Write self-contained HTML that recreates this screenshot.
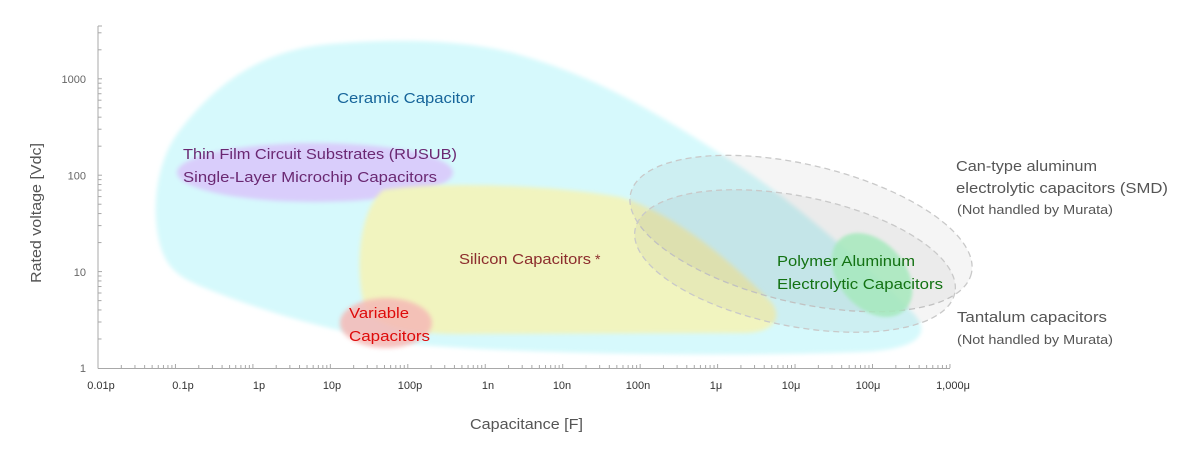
<!DOCTYPE html>
<html>
<head>
<meta charset="utf-8">
<style>
  html,body{margin:0;padding:0;background:#fff;}
  svg{display:block;}
  text{font-family:"Liberation Sans", sans-serif;}
</style>
</head>
<body>
<svg width="1200" height="450" viewBox="0 0 1200 450" xmlns="http://www.w3.org/2000/svg">
  <defs>
    <filter id="blur" x="-20%" y="-20%" width="140%" height="140%">
      <feGaussianBlur stdDeviation="2.2"/>
    </filter>
    <filter id="blur2" x="-20%" y="-20%" width="140%" height="140%">
      <feGaussianBlur stdDeviation="1.6"/>
    </filter>
    <g id="xdec" stroke="#a8a8a8" stroke-width="1">
      <line x1="23.31" y1="368" x2="23.31" y2="365"/>
      <line x1="36.95" y1="368" x2="36.95" y2="365"/>
      <line x1="46.63" y1="368" x2="46.63" y2="365"/>
      <line x1="54.13" y1="368" x2="54.13" y2="365"/>
      <line x1="60.27" y1="368" x2="60.27" y2="365"/>
      <line x1="65.45" y1="368" x2="65.45" y2="365"/>
      <line x1="69.94" y1="368" x2="69.94" y2="365"/>
      <line x1="73.91" y1="368" x2="73.91" y2="365"/>
      <line x1="77.45" y1="368" x2="77.45" y2="364"/>
    </g>
    <g id="ydec" stroke="#a8a8a8" stroke-width="1">
      <line x1="98" y1="-29.02" x2="101.5" y2="-29.02"/>
      <line x1="98" y1="-45.99" x2="101.5" y2="-45.99"/>
      <line x1="98" y1="-58.04" x2="101.5" y2="-58.04"/>
      <line x1="98" y1="-67.38" x2="101.5" y2="-67.38"/>
      <line x1="98" y1="-75.01" x2="101.5" y2="-75.01"/>
      <line x1="98" y1="-81.47" x2="101.5" y2="-81.47"/>
      <line x1="98" y1="-87.06" x2="101.5" y2="-87.06"/>
      <line x1="98" y1="-91.99" x2="101.5" y2="-91.99"/>
      <line x1="98" y1="-96.4" x2="102" y2="-96.4"/>
    </g>
  </defs>

  <!-- Ceramic (cyan) -->
  <path filter="url(#blur)" fill="#d6f9fc" d="M 172 268
    C 150 245, 148 170, 180 130
    C 215 85, 260 50, 330 44
    C 400 38, 470 40, 520 55
    C 600 78, 660 115, 730 160
    C 800 205, 870 270, 912 312
    C 935 335, 915 350, 860 352
    C 760 356, 560 356, 420 345
    C 340 335, 260 310, 210 290
    C 190 282, 180 277, 172 268 Z"/>

  <!-- Thin film (purple) -->
  <ellipse filter="url(#blur)" cx="315" cy="172.5" rx="138" ry="29.5" fill="#d9cdfb"/>

  <!-- Silicon (yellow) -->
  <path filter="url(#blur)" fill="#f1f4bf" d="M 383 190
    C 430 182, 540 183, 620 197
    C 680 215, 740 270, 772 303
    C 782 318, 775 332, 745 333
    L 460 334
    C 395 334, 368 322, 363 300
    C 356 268, 358 212, 383 190 Z"/>

  <!-- Variable (red) -->
  <ellipse filter="url(#blur)" cx="386" cy="323" rx="46" ry="25" fill="#f5b9b6" opacity="0.85"/>

  <!-- Grey ellipses -->
  <ellipse cx="801" cy="233.5" rx="175" ry="69" transform="rotate(13.2 801 233.5)" fill="#000" fill-opacity="0.04" stroke="#c9c9c9" stroke-width="1.3" stroke-dasharray="6 4"/>
  <ellipse cx="795" cy="261" rx="163" ry="65" transform="rotate(11.25 795 261)" fill="#000" fill-opacity="0.04" stroke="#c9c9c9" stroke-width="1.3" stroke-dasharray="6 4"/>

  <!-- Polymer (green) -->
  <ellipse filter="url(#blur2)" cx="872" cy="275" rx="48" ry="33" transform="rotate(48 872 275)" fill="#a6e9bd" opacity="0.85"/>

  <!-- Axes -->
  <line x1="98" y1="26" x2="98" y2="368.5" stroke="#a8a8a8" stroke-width="1"/>
  <line x1="98" y1="368.5" x2="950" y2="368.5" stroke="#a8a8a8" stroke-width="1"/>
  <line x1="98" y1="26" x2="102" y2="26" stroke="#a8a8a8" stroke-width="1"/>
  <line x1="98" y1="49.8" x2="101.5" y2="49.8" stroke="#a8a8a8" stroke-width="1"/>
  <line x1="98" y1="32.8" x2="101.5" y2="32.8" stroke="#a8a8a8" stroke-width="1"/>

  <use href="#xdec" x="98"/>
  <use href="#xdec" x="175.45"/>
  <use href="#xdec" x="252.9"/>
  <use href="#xdec" x="330.35"/>
  <use href="#xdec" x="407.8"/>
  <use href="#xdec" x="485.25"/>
  <use href="#xdec" x="562.7"/>
  <use href="#xdec" x="640.15"/>
  <use href="#xdec" x="717.6"/>
  <use href="#xdec" x="795.05"/>
  <use href="#xdec" x="872.5"/>

  <use href="#ydec" y="368"/>
  <use href="#ydec" y="271.6"/>
  <use href="#ydec" y="175.2"/>

  <!-- Y tick labels -->
  <g font-size="11" fill="#666" text-anchor="end">
    <text x="86" y="83">1000</text>
    <text x="86" y="179.5">100</text>
    <text x="86" y="276">10</text>
    <text x="86" y="372">1</text>
  </g>

  <!-- X tick labels -->
  <g font-size="11" fill="#333" text-anchor="middle">
    <text x="101" y="389">0.01p</text>
    <text x="183" y="389">0.1p</text>
    <text x="259" y="389">1p</text>
    <text x="332" y="389">10p</text>
    <text x="410" y="389">100p</text>
    <text x="488" y="389">1n</text>
    <text x="562" y="389">10n</text>
    <text x="638" y="389">100n</text>
    <text x="716" y="389">1μ</text>
    <text x="791" y="389">10μ</text>
    <text x="868" y="389">100μ</text>
    <text x="953" y="389">1,000μ</text>
  </g>

  <!-- Axis titles -->
  <text x="470" y="429" font-size="15" fill="#555" textLength="113" lengthAdjust="spacingAndGlyphs">Capacitance [F]</text>
  <text transform="translate(41,213) rotate(-90)" text-anchor="middle" font-size="15" fill="#555" textLength="140" lengthAdjust="spacingAndGlyphs">Rated voltage [Vdc]</text>

  <!-- Region labels -->
  <text x="337" y="103" font-size="15" fill="#17659a" textLength="138" lengthAdjust="spacingAndGlyphs">Ceramic Capacitor</text>
  <text x="183" y="159" font-size="15" fill="#6a2872" textLength="274" lengthAdjust="spacingAndGlyphs">Thin Film Circuit Substrates (RUSUB)</text>
  <text x="183" y="182" font-size="15" fill="#6a2872" textLength="254" lengthAdjust="spacingAndGlyphs">Single-Layer Microchip Capacitors</text>
  <text x="459" y="264" font-size="15" fill="#8c2d2d" textLength="132" lengthAdjust="spacingAndGlyphs">Silicon Capacitors</text>
  <text x="595" y="264" font-size="14" fill="#8c2d2d">*</text>
  <text x="349" y="318" font-size="15" fill="#de0a0a" textLength="60" lengthAdjust="spacingAndGlyphs">Variable</text>
  <text x="349" y="341" font-size="15" fill="#de0a0a" textLength="81" lengthAdjust="spacingAndGlyphs">Capacitors</text>
  <text x="777" y="266" font-size="15" fill="#137213" textLength="138" lengthAdjust="spacingAndGlyphs">Polymer Aluminum</text>
  <text x="777" y="289" font-size="15" fill="#137213" textLength="166" lengthAdjust="spacingAndGlyphs">Electrolytic Capacitors</text>

  <!-- Right legends -->
  <text x="956" y="171" font-size="15" fill="#555" textLength="141" lengthAdjust="spacingAndGlyphs">Can-type aluminum</text>
  <text x="956" y="193" font-size="15" fill="#555" textLength="212" lengthAdjust="spacingAndGlyphs">electrolytic capacitors (SMD)</text>
  <text x="957" y="214" font-size="12.5" fill="#555" textLength="156" lengthAdjust="spacingAndGlyphs">(Not handled by Murata)</text>
  <text x="957" y="322" font-size="15" fill="#555" textLength="150" lengthAdjust="spacingAndGlyphs">Tantalum capacitors</text>
  <text x="957" y="344" font-size="12.5" fill="#555" textLength="156" lengthAdjust="spacingAndGlyphs">(Not handled by Murata)</text>
</svg>
</body>
</html>
